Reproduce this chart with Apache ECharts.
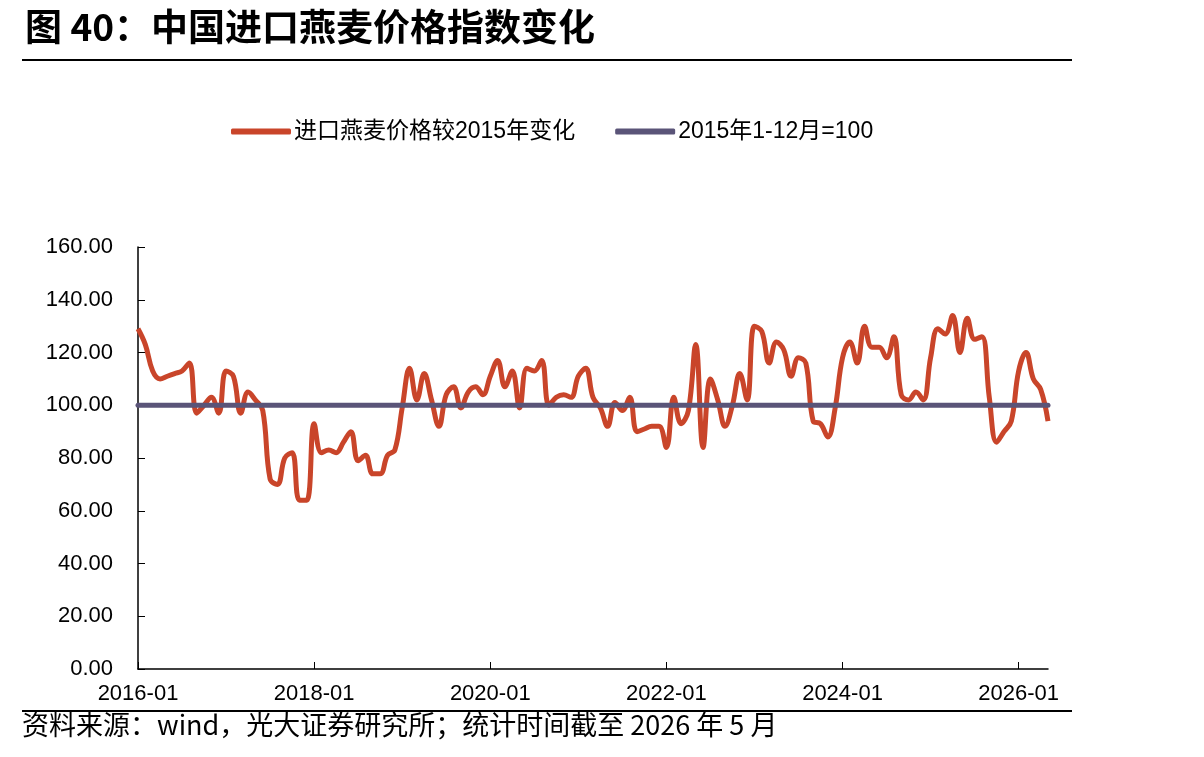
<!DOCTYPE html>
<html>
<head>
<meta charset="utf-8">
<script src="https://cdn.jsdelivr.net/npm/echarts@6/dist/echarts.min.js"></script>
<style>
  html, body { margin: 0; padding: 0; background: #fff; }
  #chart { width: 1204px; height: 757px; }
</style>
</head>
<body>
<div id="chart"></div>
<script>
// 月份：2016-01 至 2026-05
var months = [];
for (var y = 2016; y <= 2026; y++) {
    for (var m = 1; m <= 12; m++) {
        if (y === 2026 && m > 5) break;
        months.push(y + '-' + (m < 10 ? '0' + m : m));
    }
}

// 进口燕麦价格较2015年变化
var oatIndex = [
    129, 123, 113, 110, 111, 112, 113, 116, 97, 100, 103, 97,
    113, 111, 97, 105, 102, 98, 72, 70, 80, 82, 64, 64,
    93, 82, 83, 82, 86, 90, 79, 81, 74, 74, 81, 83,
    99, 114, 102, 112, 102, 92, 104, 107, 99, 105, 107, 104,
    111, 117, 107, 113, 99, 114, 113, 117, 100, 103, 104, 103,
    111, 114, 103, 99, 92, 101, 98, 103, 90, 91, 92, 92,
    84, 103, 93, 98, 123, 84, 110, 102, 92, 100, 112, 102,
    130, 128, 116, 124, 121, 111, 118, 116, 94, 93, 88, 99,
    118, 124, 116, 130, 122, 122, 118, 126, 104, 102, 105, 102,
    118, 129, 127, 134, 120, 133, 125, 126, 103, 86, 90, 94,
    113, 120, 110, 106, 94
];

// 基准：2015年1-12月=100
var baseValue = 100;

var seriesNames = ['进口燕麦价格较2015年变化', '2015年1-12月=100'];
var yTicks = { min: 0, max: 160, interval: 20 };

var redColor = '#c9452a';
var blueColor = '#5a5478';
var fontFam = "'Liberation Sans', Arial, 'Noto Sans CJK SC', sans-serif";

var chart = echarts.init(document.getElementById('chart'));
chart.setOption({
    backgroundColor: '#fff',
    animation: false,
    textStyle: { fontFamily: fontFam },
    title: {
        text: '图 40：中国进口燕麦价格指数变化',
        left: 20,
        top: 3,
        textStyle: {
            fontFamily: "'Noto Sans CJK SC', sans-serif",
            fontSize: 37,
            fontWeight: 'bold',
            color: '#000'
        }
    },
    legend: {
        top: 115,
        left: 226,
        itemWidth: 60,
        itemHeight: 6,
        itemGap: 40,
        icon: 'roundRect',
        data: seriesNames,
        textStyle: { fontSize: 23, color: '#000', fontFamily: fontFam, padding: [0, 0, 0, -2] }
    },
    grid: { left: 138, right: 156, top: 247, bottom: 88 },
    xAxis: {
        type: 'category',
        data: months,
        boundaryGap: false,
        axisLine: { lineStyle: { color: '#000', width: 1.5 } },
        axisTick: { inside: true, interval: 23, length: 7, lineStyle: { color: '#000' } },
        axisLabel: { interval: 23, margin: 14, fontSize: 22, color: '#000', fontFamily: fontFam },
        splitLine: { show: false }
    },
    yAxis: {
        type: 'value',
        min: yTicks.min,
        max: yTicks.max,
        interval: yTicks.interval,
        axisLine: { show: true, lineStyle: { color: '#000', width: 1.5 } },
        axisTick: { show: true, inside: true, length: 7, lineStyle: { color: '#000' } },
        axisLabel: {
            margin: 25,
            fontSize: 22,
            color: '#000',
            fontFamily: fontFam,
            formatter: function (v) { return v.toFixed(2); }
        },
        splitLine: { show: false }
    },
    series: [
        {
            name: seriesNames[0],
            type: 'line',
            data: oatIndex,
            smooth: 0.4,
            symbol: 'none',
            z: 2,
            itemStyle: { color: redColor },
            lineStyle: { color: redColor, width: 5 }
        },
        {
            name: seriesNames[1],
            type: 'line',
            data: [[months[0], baseValue], [months[months.length - 1], baseValue]],
            symbol: 'none',
            z: 3,
            itemStyle: { color: blueColor },
            lineStyle: { color: blueColor, width: 5, cap: 'round' }
        }
    ],
    graphic: [
        { type: 'line', shape: { x1: 22, y1: 60, x2: 1072, y2: 60 }, style: { stroke: '#000', lineWidth: 2 } },
        { type: 'line', shape: { x1: 22, y1: 711, x2: 1072, y2: 711 }, style: { stroke: '#000', lineWidth: 2 } },
        {
            type: 'text',
            left: 22,
            top: 711,
            style: {
                text: '资料来源：wind，光大证券研究所；统计时间截至 2026 年 5 月',
                fontSize: 27,
                fill: '#000',
                fontFamily: "'Noto Sans CJK SC', sans-serif"
            }
        }
    ]
});
</script>
</body>
</html>
